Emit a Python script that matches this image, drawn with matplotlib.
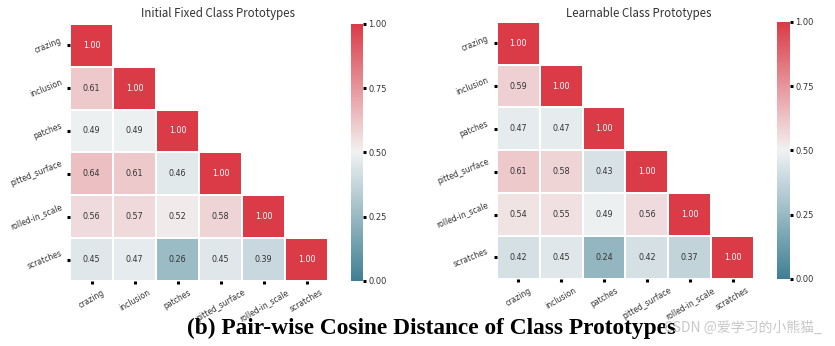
import numpy as np
import matplotlib
matplotlib.use("Agg")
import matplotlib.pyplot as plt
import seaborn as sns

# ── Data ─────────────────────────────────────────────────────────────────────

classes = ["crazing", "inclusion", "patches", "pitted_surface", "rolled-in_scale", "scratches"]

# lower triangle of the pair-wise cosine matrix, row by row
fixed_rows = [
    [1.00],
    [0.61, 1.00],
    [0.49, 0.49, 1.00],
    [0.64, 0.61, 0.46, 1.00],
    [0.56, 0.57, 0.52, 0.58, 1.00],
    [0.45, 0.47, 0.26, 0.45, 0.39, 1.00],
]
learn_rows = [
    [1.00],
    [0.59, 1.00],
    [0.47, 0.47, 1.00],
    [0.61, 0.58, 0.43, 1.00],
    [0.54, 0.55, 0.49, 0.56, 1.00],
    [0.42, 0.45, 0.24, 0.42, 0.37, 1.00],
]

titles = ["Initial Fixed Class Prototypes", "Learnable Class Prototypes"]
caption = "(b) Pair-wise Cosine Distance of Class Prototypes"
cbar_ticks = [0.0, 0.25, 0.5, 0.75, 1.0]


def to_matrix(rows):
    n = len(rows)
    m = np.zeros((n, n))
    for i, r in enumerate(rows):
        for j, v in enumerate(r):
            m[i, j] = v
            m[j, i] = v
    return m


# ── Plot ─────────────────────────────────────────────────────────────────────

cmap = sns.diverging_palette(220, 10, as_cmap=True)

fig = plt.figure(figsize=(8.35, 3.46), dpi=100)

panels = [
    # heatmap rect, colorbar rect, title x
    ([0.084, 0.188, 0.309, 0.743], [0.420, 0.188, 0.0145, 0.743], 0.261),
    ([0.595, 0.194, 0.308, 0.743], [0.9305, 0.194, 0.0155, 0.743], 0.765),
]

for (hrect, crect, tx), rows, title in zip(panels, [fixed_rows, learn_rows], titles):
    data = to_matrix(rows)
    mask = np.triu(np.ones_like(data, dtype=bool), k=1)
    ax = fig.add_axes(hrect)
    cax = fig.add_axes(crect)
    sns.heatmap(data, mask=mask, cmap=cmap, vmin=0, vmax=1, annot=True, fmt=".2f",
                annot_kws={"fontsize": 5.8}, linewidths=0.15, linecolor="white",
                ax=ax, cbar_ax=cax, cbar_kws={"ticks": cbar_ticks})
    for t in ax.texts:
        if t.get_text() == "1.00":
            t.set_color("white")
        else:
            t.set_color("#333333")

    ax.set_xticklabels(classes, rotation=30, fontsize=5.5, color="#333333")
    ax.set_yticklabels(classes, rotation=22, fontsize=5.5, color="#333333", va="center")
    ax.tick_params(axis="both", length=2, width=2.2, color="black", pad=3)

    cax.tick_params(length=2, width=2.2, color="black", labelsize=6,
                    labelcolor="#333333", pad=2)
    cax.set_yticklabels([f"{v:.2f}" for v in cbar_ticks])
    for s in cax.spines.values():
        s.set_visible(False)

    fig.text(tx, 0.962, title, ha="center", va="center", fontsize=8.3, color="#333333",
             family=["Noto Sans CJK SC", "DejaVu Sans"])

fig.text(0.517, 0.052, caption, ha="center", va="center", fontsize=16.8,
         fontweight="bold", family="Liberation Serif", color="black")
fig.text(0.89, 0.052, "CSDN @爱学习的小熊猫_", ha="center", va="center", fontsize=10,
         color="#c8c8c8", family=["Noto Sans CJK SC", "DejaVu Sans"])

fig.savefig("out.png", dpi=100)
